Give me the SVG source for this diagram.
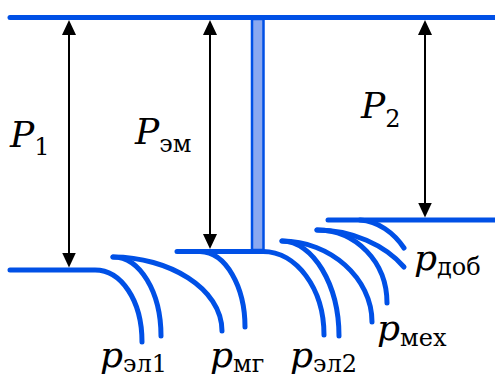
<svg xmlns="http://www.w3.org/2000/svg" width="495" height="380" viewBox="0 0 495 380">
<style>
.b{fill:none;stroke:#0050e6;stroke-width:5;stroke-linecap:round}
.a{stroke:#000;stroke-width:2;fill:none}
.P{font-family:"DejaVu Serif",serif;font-style:italic;font-size:36px;fill:#000}
.s{font-family:"DejaVu Serif",serif;font-size:24px;fill:#000}
</style>
<defs>
<marker id="ah" markerUnits="userSpaceOnUse" markerWidth="15" markerHeight="14" refX="12" refY="7" orient="auto-start-reverse" viewBox="0 0 15 14">
<path d="M0,0 L15,7 L0,14 z" fill="#000"/>
</marker>
</defs>
<g id="bus-top">
<path class="b" d="M10 17.5 H500"/>
</g>
<g id="shaft">
<rect x="252" y="19" width="11.5" height="231" fill="#8aa8f0" stroke="#0050e6" stroke-width="2.5"/>
</g>
<g id="bus-input">
<path class="b" d="M10 270 H95 C121 270 142 300 142 342"/>
</g>
<g id="bus-em">
<path class="b" d="M177 251.5 H263 C296 251.5 324 288 324 335"/>
<path class="b" d="M200 251.5 C226 252 245 287 245 327"/>
</g>
<g id="bus-output">
<path class="b" d="M328 220 H500"/>
<path class="b" d="M360 220 C378 221 394 233 404 248"/>
</g>
<g id="loss-el1-mg">
<path class="b" d="M113 257 C140 257 161 292 161 336"/>
<path class="b" d="M113 257 C168 257 222 288 222 331"/>
</g>
<g id="loss-el2-mex">
<path class="b" d="M282 241 C313 241 339 285 339 336"/>
<path class="b" d="M282 241 C330 241 372 278 372 322"/>
</g>
<g id="loss-mex-dob">
<path class="b" d="M317 230 C356 230 387 262 387 303"/>
<path class="b" d="M317 230 C352 230 385 245 404 267"/>
</g>
<g id="connectors">
<line class="a" x1="69" y1="23" x2="69" y2="264.5" marker-start="url(#ah)" marker-end="url(#ah)"/>
<line class="a" x1="210" y1="23" x2="210" y2="246" marker-start="url(#ah)" marker-end="url(#ah)"/>
<line class="a" x1="425" y1="23" x2="425" y2="214.5" marker-start="url(#ah)" marker-end="url(#ah)"/>
</g>
<g id="labels">
<text x="10" y="147"><tspan class="P">P</tspan><tspan class="s" dy="8">1</tspan></text>
<text x="135" y="144"><tspan class="P">P</tspan><tspan class="s" dy="8">эм</tspan></text>
<text x="361" y="118"><tspan class="P">P</tspan><tspan class="s" dy="9">2</tspan></text>
<text x="100" y="367"><tspan class="P">p</tspan><tspan class="s" dy="5">эл1</tspan></text>
<text x="210" y="367"><tspan class="P">p</tspan><tspan class="s" dy="5">мг</tspan></text>
<text x="290" y="367"><tspan class="P">p</tspan><tspan class="s" dy="5">эл2</tspan></text>
<text x="377" y="340"><tspan class="P">p</tspan><tspan class="s" dy="6">мех</tspan></text>
<text x="414" y="270"><tspan class="P">p</tspan><tspan class="s" dy="5">доб</tspan></text>
</g>
</svg>
